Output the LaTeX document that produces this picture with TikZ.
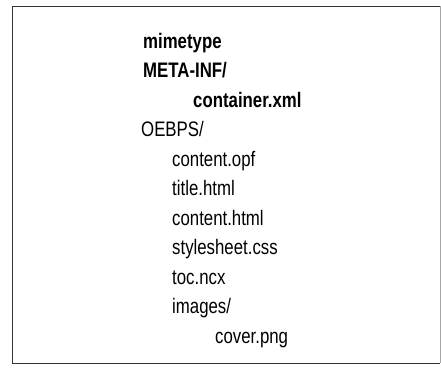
\documentclass[tikz,border=0pt]{standalone}
\usepackage{fontspec}
\setmainfont[FakeStretch=0.8]{Liberation Sans}
\begin{document}
\begin{tikzpicture}[x=1pt,y=-1pt,
  entry/.style={anchor=base west,inner sep=0pt,font=\fontsize{21}{23}\selectfont},
  bentry/.style={entry,font=\fontsize{21}{23}\selectfont\bfseries},
  frame/.style={draw=black!80,line width=0.9pt}]
\useasboundingbox (0,0) rectangle (441,367);
% outer frame of the listing
\coordinate (tl) at (12,6);
\coordinate (tr) at (440,6);
\coordinate (bl) at (12,363);
\coordinate (br) at (440,363);
\draw[frame] (tr) -- (tl) -- (bl) -- (br);
\draw[draw=black!35,line width=0.6pt] (tr) -- (br);
% directory tree
\node[bentry] (mime) at (143,48) {mimetype};
\node[bentry] (meta) at (143,77.5) {META-INF/};
\node[bentry] (cont) at (193,107) {container.xml};
\node[entry] (oebps) at (141,136.5) {OEBPS/};
\node[entry] (opf) at (172,166) {content.opf};
\node[entry] (title) at (172,195.5) {title.html};
\node[entry] (chtml) at (172,225) {content.html};
\node[entry] (css) at (172,254.5) {stylesheet.css};
\node[entry] (toc) at (172,284) {toc.ncx};
\node[entry] (img) at (172,313.5) {images/};
\node[entry] (cover) at (215,343) {cover.png};
\end{tikzpicture}
\end{document}
